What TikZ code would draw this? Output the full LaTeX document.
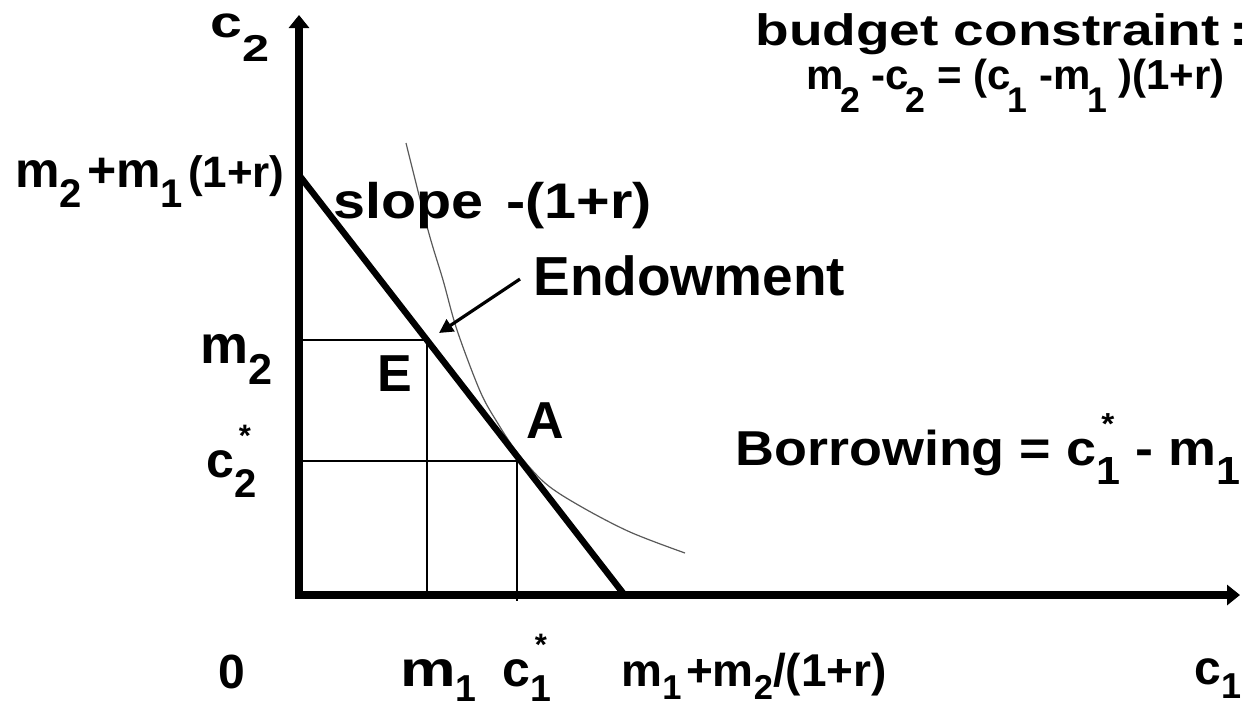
\documentclass[tikz,border=0pt]{standalone}
\usepackage{fontspec}
\setmainfont{Liberation Sans}
\usepackage{graphicx}
\usetikzlibrary{arrows.meta}
\newcommand\fs[1]{\fontsize{#1pt}{#1pt}\selectfont\bfseries}
\newcommand\lo[1]{\raisebox{-0.4em}{\scalebox{0.8}{#1}}}
\newcommand\lod[1]{\raisebox{-0.55em}{\scalebox{0.85}{#1}}}
\newcommand\lop[1]{\raisebox{-0.3em}{\scalebox{0.75}{#1}}}
\newcommand\los[1]{\makebox[0pt][l]{\raisebox{0.62em}{\scalebox{0.62}{\hspace{0.15em}*}}}\lo{#1}}
\newcommand\losp[1]{\makebox[0pt][l]{\raisebox{0.62em}{\scalebox{0.62}{\hspace{0.15em}*}}}\lop{#1}}
\begin{document}
\begin{tikzpicture}[x=0.5pt,y=-0.5pt,
  lab/.style={inner sep=0pt, anchor=base west},
  axis/.style={line width=3.7pt, -{Triangle[length=6.5pt,width=10pt]}},
  budget/.style={line width=3.2pt},
  guide/.style={line width=1pt},
  indiff/.style={line width=0.6pt, draw=black!65},
  pointer/.style={line width=1.6pt, -{Triangle[length=7pt,width=7pt]}}]
\useasboundingbox (0,0) rectangle (1257,709);
% coordinates
\coordinate (O) at (299,595);
\coordinate (Ytop) at (299,15);
\coordinate (Xend) at (1240,595);
\coordinate (B0) at (299,175);
\coordinate (B1) at (623,593);
\coordinate (E) at (427,340);
\coordinate (A) at (519,459);
\coordinate (Em2) at (299,340);
\coordinate (Em1) at (427,595);
\coordinate (Ac2) at (299,461);
\coordinate (Ac1) at (517,601);
\coordinate (ptail) at (520,279);
\coordinate (ptip) at (439,333);
% guides
\draw[guide] (Em2) -- (E) -- (Em1);
\draw[guide] (Ac2) -- (517,461) -- (Ac1);
% indifference curve
\draw[indiff] plot[smooth, tension=0.55] coordinates {(406,143) (428,230) (443,280) (457,330) (480,391) (497,422) (517,452) (545,483) (580,506) (630,532) (685,553)};
% budget line
\draw[budget] (B0) -- (B1);
% axes
\draw[axis] (O) -- (Ytop);
\draw[axis] ([xshift=-1.8pt]O) -- (Xend);
% pointer
\draw[pointer] (ptail) -- (ptip);
% labels
\node[lab, font=\fs{22}] (lc2) at (210,37) {\scalebox{1.3}[1]{c\lod{2}}};
\node[lab, font=\fs{25}] (lint) at (15,187) {m\lo{2}\hspace{0.1em}+m\lo{1}\hspace{0.1em}{\fs{22}(1+r)}};
\node[lab, font=\fs{25}] (lslope) at (333,218) {\scalebox{1.15}[1]{slope\hspace{0.4em}-(1+r)}};
\node[lab, font=\fs{27.5}] (lendow) at (533,295) {Endowment};
\node[lab, font=\fs{27}] (lm2) at (200,363) {m\lo{2}};
\node[lab, font=\fs{25}] (lc2s) at (206,477) {c\los{2}};
\node[lab, font=\fs{26}] (lE) at (377,391) {E};
\node[lab, font=\fs{26}] (lA) at (526,438) {A};
\node[lab, font=\fs{24.5}] (lborrow) at (735,465) {\scalebox{1.1}[1]{Borrowing = c\los{1} - m\lo{1}}};
\node[lab, font=\fs{22}] (lbc) at (755,45) {\scalebox{1.25}[1]{budget constraint\,:}};
\node[lab, font=\fs{21}] (lform) at (806,89) {m\kern-0.08em\lod{2} -c\kern-0.08em\lod{2} = (c\kern-0.08em\lod{1} -m\kern-0.08em\lod{1} )(1+r)};
\node[lab, font=\fs{24}] (l0) at (218,688) {0};
\node[lab, font=\fs{25}] (lm1) at (400,686) {\scalebox{1.25}[1]{m}\lop{1}};
\node[lab, font=\fs{25}] (lc1s) at (502,686) {c\losp{1}};
\node[lab, font=\fs{23}] (lmax) at (621,686) {m\lop{1}\hspace{0.1em}+m\lop{2}/(1+r)};
\node[lab, font=\fs{24}] (lc1) at (1194,684) {c\lop{1}};
\end{tikzpicture}
\end{document}
